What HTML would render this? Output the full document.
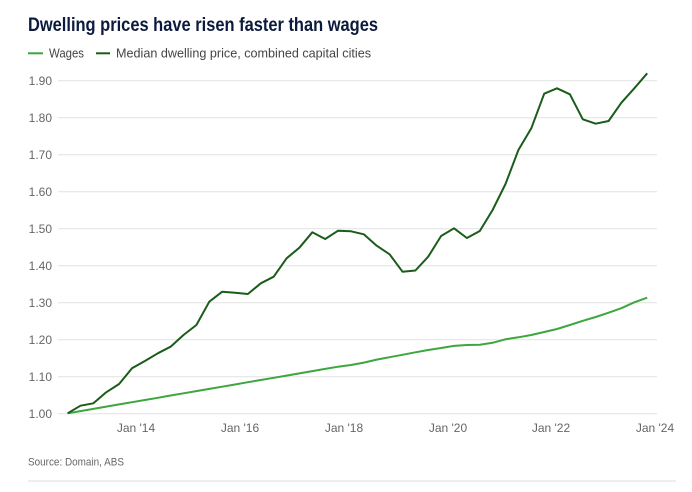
<!DOCTYPE html>
<html><head><meta charset="utf-8"><style>
html,body{margin:0;padding:0;background:#fff;}
svg{display:block;}
text{font-family:"Liberation Sans",sans-serif;}
</style></head><body>
<svg width="692" height="492" viewBox="0 0 692 492" xmlns="http://www.w3.org/2000/svg">
<text x="28" y="31" font-size="19.5" font-weight="bold" fill="#0c1a3c" textLength="350" lengthAdjust="spacingAndGlyphs">Dwelling prices have risen faster than wages</text>
<line x1="28" y1="53.3" x2="43" y2="53.3" stroke="#3ea63e" stroke-width="2"/>
<text x="49" y="57.5" font-size="12.5" fill="#444" textLength="35" lengthAdjust="spacingAndGlyphs">Wages</text>
<line x1="96" y1="53.3" x2="110" y2="53.3" stroke="#1a5c1a" stroke-width="2"/>
<text x="116" y="57.5" font-size="12.5" fill="#444" textLength="255" lengthAdjust="spacingAndGlyphs">Median dwelling price, combined capital cities</text>
<g stroke="#e2e2e2" stroke-width="1">
<line x1="58" y1="413.8" x2="657" y2="413.8"/>
<line x1="58" y1="376.8" x2="657" y2="376.8"/>
<line x1="58" y1="339.8" x2="657" y2="339.8"/>
<line x1="58" y1="302.8" x2="657" y2="302.8"/>
<line x1="58" y1="265.8" x2="657" y2="265.8"/>
<line x1="58" y1="228.8" x2="657" y2="228.8"/>
<line x1="58" y1="191.8" x2="657" y2="191.8"/>
<line x1="58" y1="154.8" x2="657" y2="154.8"/>
<line x1="58" y1="117.8" x2="657" y2="117.8"/>
<line x1="58" y1="80.8" x2="657" y2="80.8"/>
</g>
<g font-size="12" fill="#666" text-anchor="end">
<text x="52" y="418">1.00</text>
<text x="52" y="381">1.10</text>
<text x="52" y="344">1.20</text>
<text x="52" y="307">1.30</text>
<text x="52" y="270">1.40</text>
<text x="52" y="233">1.50</text>
<text x="52" y="196">1.60</text>
<text x="52" y="159">1.70</text>
<text x="52" y="122">1.80</text>
<text x="52" y="85">1.90</text>
</g>
<g font-size="12" fill="#666" text-anchor="middle">
<text x="136" y="432">Jan '14</text>
<text x="240" y="432">Jan '16</text>
<text x="344" y="432">Jan '18</text>
<text x="448" y="432">Jan '20</text>
<text x="551" y="432">Jan '22</text>
<text x="655" y="432">Jan '24</text>
</g>
<polyline fill="none" stroke="#3ea63e" stroke-width="2" stroke-linejoin="round" points="67.6,413.3 80.5,411.1 93.4,408.9 106.2,406.6 119.1,404.4 132.0,402.2 144.9,400.0 157.8,397.8 170.6,395.5 183.5,393.3 196.4,391.1 209.3,388.9 222.2,386.7 235.0,384.5 247.9,382.2 260.8,380.0 273.7,377.8 286.6,375.6 299.4,373.4 312.3,371.1 325.2,368.9 338.1,366.7 351.0,365 363.8,362.6 376.7,359.6 389.6,357.2 402.5,354.8 415.4,352.3 428.2,350 441.1,348 454.0,345.9 466.9,345 479.8,344.8 492.6,342.8 505.5,339.3 518.4,337.3 531.3,335 544.2,332 557.0,329 569.9,325 582.8,320.8 595.7,317 608.6,312.7 621.4,308.2 634.3,302.3 647.2,297.7"/>
<polyline fill="none" stroke="#1a5c1a" stroke-width="2" stroke-linejoin="round" points="67.6,413.3 80.5,405.7 93.4,403.3 106.2,392.3 119.1,384 132.0,368.3 144.9,361 157.8,353.3 170.6,346.7 183.5,335 196.4,325 209.3,301.7 222.2,291.7 235.0,292.7 247.9,294 260.8,283.3 273.7,276.7 286.6,258.3 299.4,247.7 312.3,232.3 325.2,239 338.1,230.7 351.0,231.3 363.8,234.3 376.7,245.7 389.6,254.3 402.5,271.7 415.4,270.5 428.2,256.7 441.1,236 454.0,228.3 466.9,238 479.8,231 492.6,210 505.5,184 518.4,150 531.3,128.3 544.2,93.7 557.0,88.3 569.9,94.3 582.8,119.3 595.7,123.7 608.6,121 621.4,102.7 634.3,88.3 647.2,73.3"/>
<text x="28" y="465.5" font-size="11" fill="#666" textLength="96" lengthAdjust="spacingAndGlyphs">Source: Domain, ABS</text>
<line x1="28" y1="481" x2="676" y2="481" stroke="#dcdcdc" stroke-width="1"/>
</svg>
</body></html>
